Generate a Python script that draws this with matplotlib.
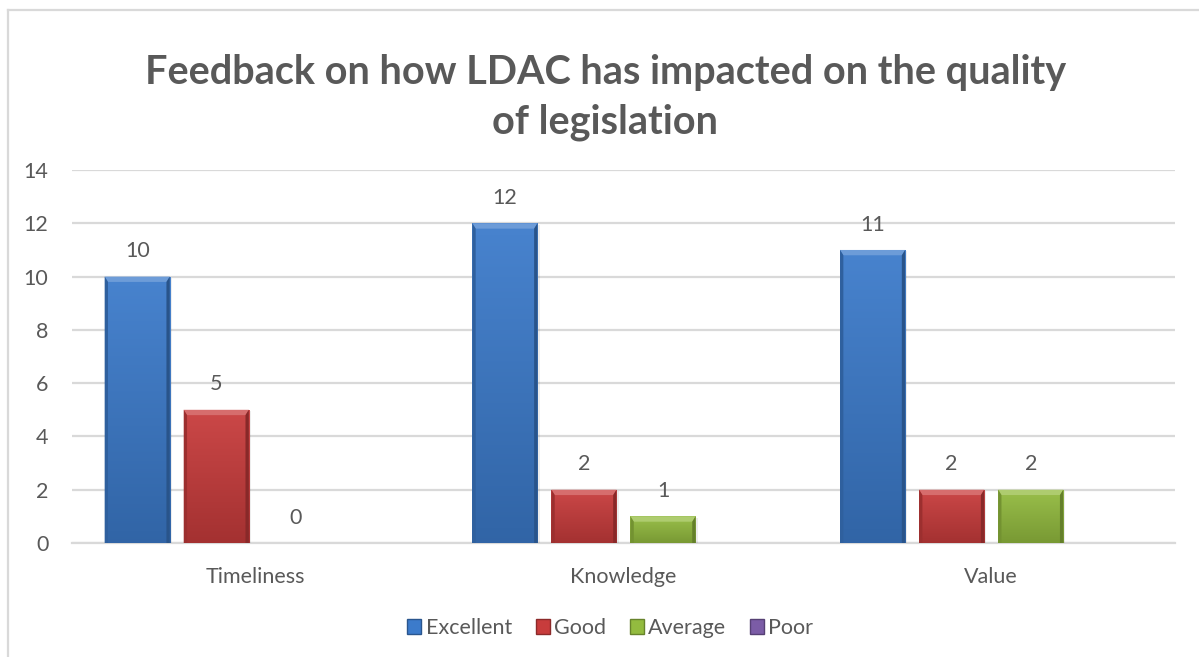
import numpy as np
import matplotlib
matplotlib.use("Agg")
import matplotlib.pyplot as plt
from matplotlib.patches import Patch, Polygon
from matplotlib.lines import Line2D
from matplotlib.colors import LinearSegmentedColormap, to_rgb

# Data
categories = ["Timeliness", "Knowledge", "Value"]
series = ["Excellent", "Good", "Average", "Poor"]
excellent = [10, 12, 11]
good = [5, 2, 2]
average = [0, 1, 2]
poor = [np.nan, np.nan, np.nan]
values = [excellent, good, average, poor]
colors = ["#3C7BCB", "#C83C3C", "#93BB3F", "#7B5CA6"]

plt.rcParams["font.family"] = ["Lato", "DejaVu Sans"]
text_color = "#595959"
grid_color = "#D9D9D9"


def shade(c, f):
    r, g, b = to_rgb(c)
    if f >= 0:
        return (r + (1 - r) * f, g + (1 - g) * f, b + (1 - b) * f)
    return (r * (1 + f), g * (1 + f), b * (1 + f))


fig = plt.figure(figsize=(11.99, 6.57), dpi=100)
ax = fig.add_axes([0.060, 0.1735, 0.920, 0.5677])

x = np.arange(len(categories))
width = 0.177
step = 0.215

for i, (name, vals, col) in enumerate(zip(series, values, colors)):
    offs = (i - 1.5) * step
    bars = ax.bar(x + offs, vals, width, color=col, zorder=3, label=name)
    # vertical gradient: darker at the bottom
    cmap = LinearSegmentedColormap.from_list(name, [shade(col, -0.18), shade(col, 0.06)])
    for b, v in zip(bars, vals):
        if np.isnan(v):
            continue
        bx, bw, bh = b.get_x(), b.get_width(), b.get_height()
        if bh > 0:
            grad = np.linspace(0, 1, 64).reshape(-1, 1)
            im = ax.imshow(grad, cmap=cmap, aspect="auto", extent=(bx, bx + bw, 0, bh),
                           origin="lower", zorder=3.1, interpolation="bicubic")
            im.set_clip_path(b)
            # bevel on top and sides
            dx = 0.009
            dy = 0.2
            ax.add_patch(Polygon([(bx, bh), (bx + bw, bh), (bx + bw - dx, bh - dy), (bx + dx, bh - dy)],
                                 closed=True, facecolor=shade(col, 0.25), edgecolor="none", zorder=3.2))
            ax.add_patch(Polygon([(bx, bh), (bx + dx, bh - dy), (bx + dx, 0), (bx, 0)],
                                 closed=True, facecolor=shade(col, -0.22), edgecolor="none", zorder=3.2))
            ax.add_patch(Polygon([(bx + bw, bh), (bx + bw - dx, bh - dy), (bx + bw - dx, 0), (bx + bw, 0)],
                                 closed=True, facecolor=shade(col, -0.32), edgecolor="none", zorder=3.2))
            # soft shadow
            ax.add_patch(Polygon([(bx + 0.004, bh - 0.05), (bx + bw + 0.006, bh - 0.05),
                                  (bx + bw + 0.006, -0.06), (bx + 0.004, -0.06)],
                                 closed=True, facecolor="#000000", alpha=0.07,
                                 edgecolor="none", zorder=2.9))
        ax.text(bx + bw / 2, bh + 0.95, f"{int(v)}", ha="center", va="center",
                fontsize=15.5, color=text_color, zorder=4)

ax.set_xlim(-0.5, 2.5)
ax.set_ylim(0, 14)
ax.set_yticks(range(0, 15, 2))
ax.set_xticks(x)
ax.set_xticklabels(categories)
ax.tick_params(axis="both", length=0, labelsize=15.5, labelcolor=text_color)
ax.tick_params(axis="y", pad=17)
ax.tick_params(axis="x", pad=17)
ax.yaxis.grid(True, color=grid_color, linewidth=1.6, zorder=0)
ax.set_axisbelow(True)
for s in ["top", "right", "left"]:
    ax.spines[s].set_visible(False)
ax.spines["bottom"].set_color(grid_color)
ax.spines["bottom"].set_linewidth(1.6)

# Title
fig.text(0.505, 0.852, "Feedback on how LDAC has impacted on the quality\nof legislation",
         ha="center", va="center", fontsize=28.5, fontweight="bold", color=text_color,
         linespacing=1.42)

# Legend
handles = [Patch(facecolor=c, edgecolor=shade(c, -0.3), label=s) for s, c in zip(series, colors)]
fig.legend(handles=handles, loc="center", bbox_to_anchor=(0.509, 0.044), ncol=4,
           frameon=False, fontsize=15.5, labelcolor=text_color, handlelength=0.65,
           handleheight=0.65, handletextpad=0.2, columnspacing=1.1)

# Chart border (left and top edges visible)
fig.add_artist(Line2D([0.0067, 0.0067], [0.0, 0.9848], transform=fig.transFigure,
                      color=grid_color, linewidth=1.6))
fig.add_artist(Line2D([0.0067, 1.0], [0.9848, 0.9848], transform=fig.transFigure,
                      color=grid_color, linewidth=1.6))

fig.savefig("out.png", dpi=100)
